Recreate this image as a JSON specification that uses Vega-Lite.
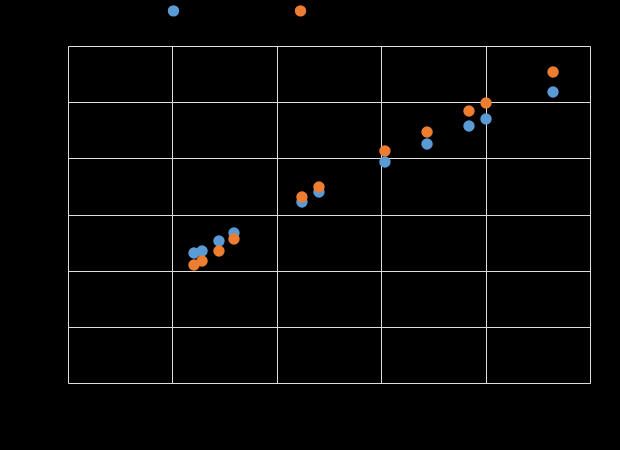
{
  "$schema": "https://vega.github.io/schema/vega-lite/v6.json",
  "background": "black",
  "autosize": {"type": "none"},
  "padding": {"left": 68, "top": 46, "right": 30, "bottom": 67},
  "width": 522,
  "height": 337,
  "data": {
    "values": [
      {"x": 12.07, "y": 23.15, "series": "Series 1"},
      {"x": 12.84, "y": 23.5, "series": "Series 1"},
      {"x": 14.46, "y": 25.28, "series": "Series 1"},
      {"x": 15.9, "y": 26.71, "series": "Series 1"},
      {"x": 22.41, "y": 32.23, "series": "Series 1"},
      {"x": 24.04, "y": 34.0, "series": "Series 1"},
      {"x": 30.36, "y": 39.35, "series": "Series 1"},
      {"x": 34.39, "y": 42.55, "series": "Series 1"},
      {"x": 38.41, "y": 45.76, "series": "Series 1"},
      {"x": 40.04, "y": 47.0, "series": "Series 1"},
      {"x": 46.46, "y": 51.81, "series": "Series 1"},
      {"x": 12.07, "y": 21.01, "series": "Series 2"},
      {"x": 12.84, "y": 21.72, "series": "Series 2"},
      {"x": 14.46, "y": 23.5, "series": "Series 2"},
      {"x": 15.9, "y": 25.64, "series": "Series 2"},
      {"x": 22.41, "y": 33.12, "series": "Series 2"},
      {"x": 24.04, "y": 34.9, "series": "Series 2"},
      {"x": 30.36, "y": 41.31, "series": "Series 2"},
      {"x": 34.39, "y": 44.69, "series": "Series 2"},
      {"x": 38.41, "y": 48.43, "series": "Series 2"},
      {"x": 40.04, "y": 49.85, "series": "Series 2"},
      {"x": 46.46, "y": 55.37, "series": "Series 2"}
    ]
  },
  "mark": {"type": "point", "filled": true, "opacity": 1, "size": 130},
  "encoding": {
    "x": {
      "field": "x", "type": "quantitative", "title": "X",
      "scale": {"domain": [0, 50], "nice": false},
      "axis": {"values": [0, 10, 20, 30, 40, 50]}
    },
    "y": {
      "field": "y", "type": "quantitative", "title": "Y",
      "scale": {"domain": [0, 60], "nice": false},
      "axis": {"values": [0, 10, 20, 30, 40, 50, 60]}
    },
    "color": {
      "field": "series", "type": "nominal", "title": null,
      "scale": {"domain": ["Series 1", "Series 2"], "range": ["#5b9bd5", "#ed7d31"]},
      "legend": {
        "orient": "none", "direction": "horizontal",
        "legendX": 99, "legendY": -42,
        "columnPadding": 73, "symbolSize": 130, "symbolOpacity": 1
      }
    }
  },
  "config": {
    "view": {"stroke": null},
    "axis": {
      "domain": false, "ticks": false, "gridColor": "#dddddd",
      "labelColor": "black", "titleColor": "black"
    },
    "legend": {"labelColor": "black", "titleColor": "black"}
  }
}
